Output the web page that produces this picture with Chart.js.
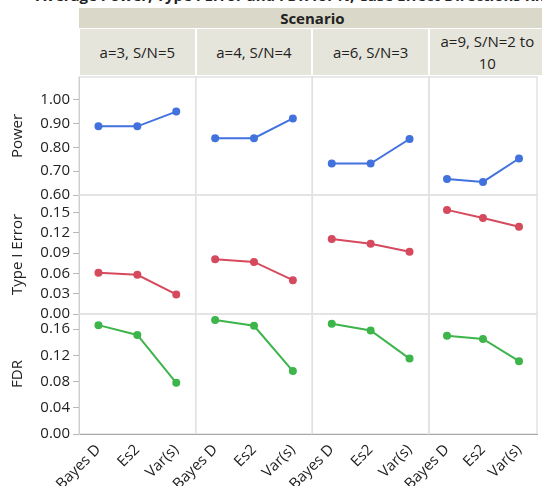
<!DOCTYPE html>
<html>
<head>
<meta charset="utf-8">
<script src="https://cdn.jsdelivr.net/npm/chart.js@4.4.1/dist/chart.umd.min.js"></script>
<style>
  body { margin: 0; width: 542px; height: 486px; overflow: hidden; background: #fff; position: relative; font-family: "Open Sans", "Noto Sans", sans-serif; color: #222; }
  canvas { position: absolute; left: 0; top: 0; }
  .title { position: absolute; left: 36px; top: -15px; font-size: 15px; font-weight: bold; white-space: nowrap; color: #222; }
  .band { position: absolute; background: #dad8c9; font-weight: bold; font-size: 15px; text-align: center; }
  .sub { position: absolute; background: #e6e5db; font-size: 15px; text-align: center; display: flex; align-items: center; justify-content: center; line-height: 22px; }
</style>
</head>
<body>
<div class="title">Average Power, Type I Error and FDR for N, Case Effect Directions Known</div>
<div id="headers"></div>

<script>
// data
const methods = ['Bayes D', 'Es2', 'Var(s)'];
const scenarios = ['a=3, S/N=5', 'a=4, S/N=4', 'a=6, S/N=3', 'a=9, S/N=2 to 10'];

const power      = [[0.888, 0.888, 0.950], [0.838, 0.838, 0.921], [0.732, 0.732, 0.835], [0.667, 0.655, 0.753]];
const typeIError = [[0.061, 0.058, 0.029], [0.081, 0.077, 0.050], [0.111, 0.104, 0.092], [0.154, 0.142, 0.129]];
const fdr        = [[0.166, 0.151, 0.078], [0.174, 0.165, 0.096], [0.168, 0.158, 0.115], [0.150, 0.145, 0.111]];

const powerTicks = [0.6, 0.7, 0.8, 0.9, 1.0];
const typeITicks = [0, 0.03, 0.06, 0.09, 0.12, 0.15];
const fdrTicks   = [0, 0.04, 0.08, 0.12, 0.16];

// layout of the trellis
const W = 542, H = 486;
const colEdges = [79, 195.7, 312.3, 429, 545.7];
const rowEdges = [77, 195, 314, 434];

const rows = [
  { name: 'Power',        values: power,      ticks: powerTicks, min: 0.6, max: 1.095, color: '#4272dd' },
  { name: 'Type I Error', values: typeIError, ticks: typeITicks, min: 0,   max: 0.176, color: '#d64a5e' },
  { name: 'FDR',          values: fdr,        ticks: fdrTicks,   min: 0,   max: 0.183, color: '#3db54a' }
];

// header boxes
const hdr = document.getElementById('headers');
const band = document.createElement('div');
band.className = 'band';
band.style.cssText = `left:${colEdges[0]}px;top:8px;width:${colEdges[4] - colEdges[0]}px;height:20px;line-height:20px;`;
band.textContent = 'Scenario';
hdr.appendChild(band);
scenarios.forEach((s, c) => {
  const d = document.createElement('div');
  d.className = 'sub';
  d.style.cssText = `left:${colEdges[c] + 1}px;top:29px;width:${colEdges[c + 1] - colEdges[c] - 2}px;height:46px;`;
  d.textContent = s;
  hdr.appendChild(d);
});

const panelBorder = {
  id: 'panelBorder',
  beforeDraw(chart) {
    const { ctx, chartArea: a } = chart;
    ctx.save();
    ctx.strokeStyle = '#e2e2e2';
    ctx.lineWidth = 1.5;
    ctx.strokeRect(a.left, a.top, a.right - a.left, a.bottom - a.top);
    ctx.restore();
  }
};

const fontFam = '"Open Sans", "Noto Sans", sans-serif';

rows.forEach((row, r) => {
  row.values.forEach((vals, c) => {
    const cv = document.createElement('canvas');
    cv.width = W; cv.height = H;
    document.body.appendChild(cv);
    const firstCol = c === 0;
    const lastRow = r === rows.length - 1;

    new Chart(cv.getContext('2d'), {
      type: 'line',
      data: {
        labels: methods,
        datasets: [{
          data: vals,
          borderColor: row.color,
          backgroundColor: row.color,
          borderWidth: 2,
          pointRadius: 3,
          pointHoverRadius: 3,
          tension: 0
        }]
      },
      options: {
        responsive: false,
        animation: false,
        devicePixelRatio: 1,
        layout: {
          padding: {
            left: firstCol ? 0 : colEdges[c],
            right: W - colEdges[c + 1],
            top: rowEdges[r],
            bottom: lastRow ? 0 : H - rowEdges[r + 1]
          }
        },
        plugins: { legend: { display: false }, tooltip: { enabled: false } },
        scales: {
          x: {
            display: lastRow,
            offset: true,
            grid: { display: true, drawOnChartArea: false, drawTicks: false },
            border: { display: true, color: '#a8a8a8', width: 1 },
            ticks: {
              autoSkip: false,
              maxRotation: 45, minRotation: 45, padding: 7,
              color: '#222', font: { size: 15, family: fontFam }
            },
            afterFit(s) {
              if (lastRow) s.height = H - rowEdges[3];
              s.paddingLeft = 0; s.paddingRight = 0;
            }
          },
          y: {
            display: firstCol,
            min: row.min,
            max: row.max,
            afterBuildTicks(s) { s.ticks = row.ticks.map(v => ({ value: v })); },
            grid: { drawOnChartArea: false, drawTicks: true, tickLength: 6, color: '#b8b8b8' },
            border: { display: true, color: '#cfcfcf', width: 1 },
            ticks: {
              autoSkip: false,
              padding: 3, color: '#222', font: { size: 15, family: fontFam },
              callback: v => Number(v).toFixed(2)
            },
            title: {
              display: true, text: row.name, color: '#222',
              font: { size: 15, family: fontFam },
              padding: { top: 9, bottom: 0 }
            },
            afterFit(s) {
              if (firstCol) s.width = colEdges[0];
              s.paddingTop = 0; s.paddingBottom = 0;
            }
          }
        }
      },
      plugins: [panelBorder]
    });
  });
});
</script>
</body>
</html>
